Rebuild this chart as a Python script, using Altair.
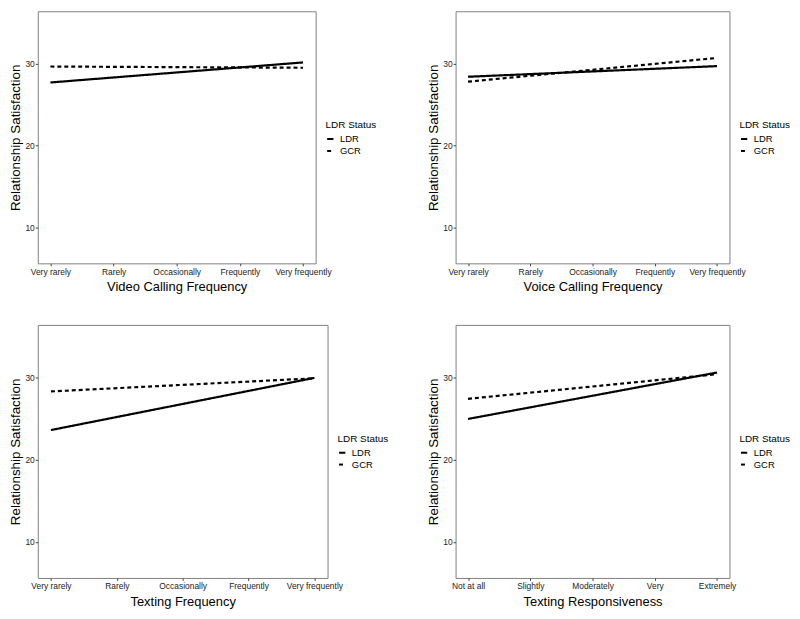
import altair as alt
import pandas as pd

status = ["LDR", "GCR"]
freq_levels = ["Very rarely", "Rarely", "Occasionally", "Frequently", "Very frequently"]
resp_levels = ["Not at all", "Slightly", "Moderately", "Very", "Extremely"]

# values at first and last category (straight fitted lines)
video_ldr = [27.7, 30.15]
video_gcr = [29.65, 29.5]
voice_ldr = [28.4, 29.7]
voice_gcr = [27.8, 30.7]
text_ldr = [23.6, 29.95]
text_gcr = [28.3, 29.9]
resp_ldr = [24.95, 30.6]
resp_gcr = [27.4, 30.4]

FONT = "Liberation Sans"


def panel(levels, ldr, gcr, xtitle, width, height):
    df = pd.DataFrame({
        "level": [levels[0], levels[-1], levels[0], levels[-1]],
        "status": ["LDR", "LDR", "GCR", "GCR"],
        "sat": ldr + gcr,
    })
    return alt.Chart(df).mark_line(color="black", strokeWidth=2.2).encode(
        x=alt.X("level:O",
                scale=alt.Scale(type="point", domain=levels, padding=0.2),
                axis=alt.Axis(title=xtitle, labelAngle=0)),
        y=alt.Y("sat:Q",
                scale=alt.Scale(domain=[5.6, 36.4], nice=False, zero=False),
                axis=alt.Axis(title="Relationship Satisfaction", values=[10, 20, 30])),
        strokeDash=alt.StrokeDash(
            "status:N",
            scale=alt.Scale(domain=status, range=[[1, 0], [4, 3]]),
            legend=alt.Legend(title="LDR Status", orient="none",
                              legendX=width + 10, legendY=110),
        ),
    ).properties(width=width, height=height)


p1 = panel(freq_levels, video_ldr, video_gcr, "Video Calling Frequency", 280, 254)
p2 = panel(freq_levels, voice_ldr, voice_gcr, "Voice Calling Frequency", 276, 254)
p3 = panel(freq_levels, text_ldr, text_gcr, "Texting Frequency", 292, 255)
p4 = panel(resp_levels, resp_ldr, resp_gcr, "Texting Responsiveness", 276, 255)


def row(a, b, sp):
    return alt.hconcat(a, b, spacing=sp).resolve_scale(
        x="independent", y="independent", strokeDash="independent"
    ).resolve_legend(strokeDash="independent")


chart = alt.vconcat(row(p1, p2, 48), row(p3, p4, 36), spacing=30).resolve_scale(
    x="independent", y="independent", strokeDash="independent"
).resolve_legend(strokeDash="independent").properties(
    padding={"left": 0, "top": 0, "right": 0, "bottom": 0}
).configure(font=FONT).configure_view(
    stroke="#808080", strokeWidth=1
).configure_axis(
    grid=False, domain=False, tickColor="#444", tickSize=2.5, tickWidth=1,
    labelFont=FONT, labelFontSize=8.5, labelColor="#222", labelPadding=1.5,
    titleFont=FONT, titleFontWeight="normal", titleColor="black",
).configure_axisX(titlePadding=5, titleFontSize=13).configure_axisY(
    titlePadding=2, titleFontSize=13.5, labelPadding=1
).configure_legend(
    titleFont=FONT, titleFontSize=10, titleFontWeight="normal", titleColor="black",
    labelFont=FONT, labelFontSize=9.5, labelColor="black",
    symbolType="stroke", symbolSize=40, symbolStrokeWidth=2, symbolStrokeColor="black",
    labelOffset=5, rowPadding=1, titlePadding=4, padding=0,
)

chart.save("out.html", embed_options={"renderer": "svg", "actions": False})
